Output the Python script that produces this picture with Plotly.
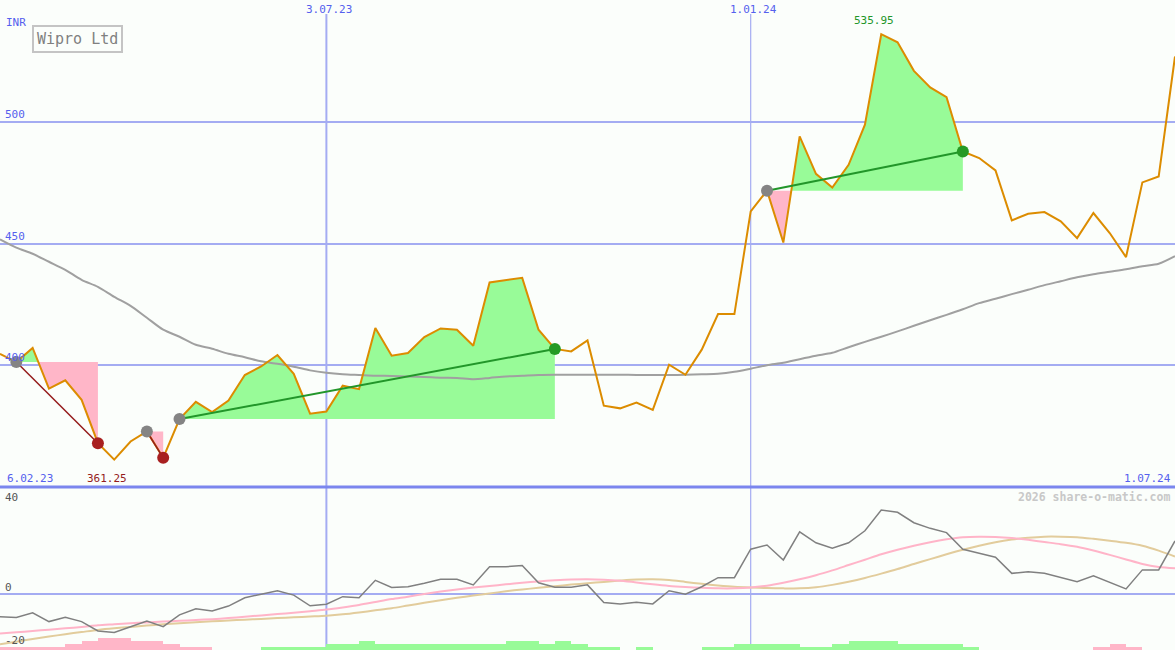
import pandas as pd
import plotly.graph_objects as go

# ---------------- data ----------------
start_date = "2023-02-13"
n_weeks = 73
dates = pd.date_range(start_date, periods=n_weeks, freq="7D")

close = [404.7, 401.3, 407.1, 390.4, 393.8, 385.8, 368.0, 361.25, 368.7, 372.8,
         362.0, 377.9, 385.0, 380.8, 385.5, 396.0, 399.5, 404.2, 396.5, 380.1,
         381.0, 391.6, 390.2, 415.3, 403.9, 405.0, 411.6, 415.1, 414.6, 408.0,
         434.0, 434.8, 435.9, 414.6, 406.7, 405.7, 410.2, 383.4, 382.3, 384.7,
         381.7, 400.2, 396.1, 406.4, 421.0, 421.0, 463.2, 471.7, 450.4, 494.0,
         478.6, 473.0, 482.3, 498.8, 535.95, 532.6, 520.9, 514.1, 510.1, 487.8,
         485.1, 480.0, 459.5, 462.2, 462.9, 459.1, 452.2, 462.5, 454.3, 444.4,
         475.1, 477.5, 526.8]

ma_long = [451.7, 448.3, 445.8, 442.5, 439.2, 435.1, 432.2, 428.1, 424.4, 419.5,
           414.6, 411.7, 408.4, 406.8, 404.7, 403.3, 401.6, 400.6, 399.4, 397.9,
           396.9, 396.3, 396.0, 395.7, 395.6, 395.4, 395.2, 394.9, 394.8, 394.3,
           394.8, 395.4, 395.7, 396.0, 396.1, 396.1, 396.1, 396.1, 396.1, 396.0,
           396.0, 396.0, 396.1, 396.3, 396.5, 397.3, 398.6, 400.0, 401.0, 402.5,
           403.9, 405.1, 407.4, 409.6, 411.7, 413.9, 416.2, 418.5, 420.7, 423.0,
           425.5, 427.3, 429.2, 431.0, 432.9, 434.5, 436.1, 437.4, 438.4, 439.4,
           440.7, 441.7, 444.8]

# trades: index of entry week and exit week
trade_entry = [1, 9, 11, 47]
trade_exit = [6, 10, 34, 59]

# lower panel indicator
osc = [-8.5, -8.8, -7.0, -10.3, -8.7, -10.3, -13.8, -14.4, -12.2, -10.1,
       -12.2, -7.8, -5.5, -6.3, -4.5, -1.4, -0.1, 1.2, -0.4, -4.4,
       -3.8, -1.0, -1.4, 5.1, 2.4, 2.7, 4.0, 5.5, 5.5, 3.4,
       10.2, 10.2, 10.6, 4.2, 2.5, 2.5, 3.4, -3.2, -3.7, -3.1,
       -3.7, 1.2, -0.1, 2.7, 6.1, 6.1, 16.7, 18.3, 12.7, 23.2,
       19.1, 17.1, 19.1, 23.6, 31.3, 30.5, 26.6, 24.5, 22.9, 16.7,
       15.2, 13.7, 7.7, 8.3, 7.7, 6.1, 4.6, 6.8, 4.4, 1.9,
       9.0, 9.0, 19.8]

sig_fast = [-14.7, -14.3, -13.8, -13.3, -12.8, -12.3, -11.7, -11.3, -10.9, -10.6,
            -10.3, -10.0, -9.7, -9.4, -9.0, -8.5, -8.0, -7.5, -7.0, -6.4,
            -5.8, -5.0, -4.1, -3.0, -1.9, -1.0, 0.0, 0.9, 1.7, 2.4,
            3.0, 3.6, 4.2, 4.7, 5.1, 5.4, 5.5, 5.3, 4.9, 4.3,
            3.6, 3.0, 2.6, 2.3, 2.1, 2.1, 2.4, 3.1, 4.2, 5.5,
            7.0, 8.8, 10.8, 12.8, 14.8, 16.5, 18.0, 19.3, 20.4, 21.2,
            21.4, 21.3, 20.9, 20.2, 19.4, 18.6, 17.6, 16.2, 14.6, 12.9,
            11.2, 10.1, 9.6]

sig_slow = [-18.8, -17.8, -16.8, -15.9, -15.0, -14.2, -13.4, -12.8, -12.3, -11.8,
            -11.3, -10.9, -10.5, -10.2, -9.9, -9.6, -9.3, -9.0, -8.7, -8.4,
            -8.1, -7.6, -6.9, -6.1, -5.3, -4.3, -3.3, -2.3, -1.4, -0.6,
            0.2, 1.0, 1.7, 2.3, 2.9, 3.5, 4.0, 4.5, 5.0, 5.4,
            5.5, 5.2, 4.5, 3.8, 3.2, 2.7, 2.4, 2.2, 2.1, 2.1,
            2.5, 3.4, 4.6, 6.0, 7.6, 9.3, 11.2, 13.0, 14.8, 16.5,
            18.0, 19.3, 20.3, 21.0, 21.4, 21.4, 21.2, 20.6, 19.9, 19.1,
            18.0, 16.2, 14.0]

hist = [-1.2, -1.2, -1.2, -1.2, -2.2, -3.4, -4.6, -4.6, -3.4, -3.4,
        -2.2, -1.2, -1.2, 0, 0, 0, 1.2, 1.2, 1.2, 1.2,
        2.2, 2.2, 3.4, 2.2, 2.2, 2.2, 2.2, 2.2, 2.2, 2.2,
        2.2, 3.4, 3.4, 2.2, 3.4, 2.2, 1.2, 1.2, 0, 1.2,
        0, 0, 0, 1.2, 1.2, 2.2, 2.2, 2.2, 2.2, 1.2,
        1.2, 2.2, 3.4, 3.4, 3.4, 2.2, 2.2, 2.2, 2.2, 1.2,
        0, 0, 0, 0, 0, 0, 0, -1.2, -2.2, -1.2,
        0, 0, 0]

main_ticks = [400, 450, 500]
lower_ticks = [0]
vline_dates = ["2023-07-03", "2024-01-01"]
vline_labels = ["3.07.23", "1.01.24"]
first_label = "6.02.23"
last_label = "1.07.24"

# ---------------- style ----------------
BG = "#fbfefb"
GRID = "#a4acf2"
DIVIDER = "#7b86ee"
LBL = "#5560ee"
FONT = "DejaVu Sans Mono"
ORANGE = "#dc8c00"
GREENF = "#98fb98"
PINKF = "#ffb6c8"
MAIN_RANGE = [350, 550]
LOW_RANGE = [-20.9, 39.2]
SPLIT = 1 - 487 / 650

fig = go.Figure()

week = pd.Timedelta(days=7)
t0 = pd.Timestamp(start_date)


def frac_date(f):
    return t0 + week * f


# ---- trade fills ----
for i0, i1 in zip(trade_entry, trade_exit):
    lvl = close[i0]
    xs, ys = [], []
    for k in range(i0, i1):
        xs.append(k)
        ys.append(close[k])
        a, b = close[k] - lvl, close[k + 1] - lvl
        if a * b < 0:
            t = a / (a - b)
            xs.append(k + t)
            ys.append(lvl)
    xs.append(i1)
    ys.append(close[i1])
    xd = [frac_date(f) for f in xs]
    up = [max(v, lvl) for v in ys]
    lo = [min(v, lvl) for v in ys]
    for arr, col in ((up, GREENF), (lo, PINKF)):
        fig.add_trace(go.Scatter(x=xd, y=[lvl] * len(xd), mode="lines",
                                 line=dict(width=0), hoverinfo="skip",
                                 showlegend=False, xaxis="x", yaxis="y"))
        fig.add_trace(go.Scatter(x=xd, y=arr, mode="lines", line=dict(width=0),
                                 fill="tonexty", fillcolor=col, hoverinfo="skip",
                                 showlegend=False, xaxis="x", yaxis="y"))

# ---- long moving average ----
fig.add_trace(go.Scatter(x=dates, y=ma_long, mode="lines",
                         line=dict(color="#a0a0a0", width=2, shape="spline", smoothing=0.8),
                         showlegend=False, xaxis="x", yaxis="y"))

# ---- price ----
fig.add_trace(go.Scatter(x=dates, y=close, mode="lines",
                         line=dict(color=ORANGE, width=2),
                         showlegend=False, xaxis="x", yaxis="y"))

# ---- trade lines & markers ----
for i0, i1 in zip(trade_entry, trade_exit):
    win = close[i1] > close[i0]
    lc = "#22962a" if win else "#951c1c"
    fig.add_trace(go.Scatter(x=[dates[i0], dates[i1]], y=[close[i0], close[i1]],
                             mode="lines", line=dict(color=lc, width=2 if win else 1.5),
                             showlegend=False, xaxis="x", yaxis="y"))
for i0, i1 in zip(trade_entry, trade_exit):
    win = close[i1] > close[i0]
    fig.add_trace(go.Scatter(x=[dates[i0]], y=[close[i0]], mode="markers",
                             marker=dict(color="#848484", size=12),
                             showlegend=False, xaxis="x", yaxis="y"))
    fig.add_trace(go.Scatter(x=[dates[i1]], y=[close[i1]], mode="markers",
                             marker=dict(color="#259a25" if win else "#a82020", size=12),
                             showlegend=False, xaxis="x", yaxis="y"))

# ---- lower panel ----
bar_h = [abs(v) for v in hist]
bar_c = [GREENF if v > 0 else PINKF for v in hist]
fig.add_trace(go.Bar(x=dates, y=bar_h, base=LOW_RANGE[0],
                     marker=dict(color=bar_c, line=dict(width=0)),
                     width=7 * 86400000, offset=0, showlegend=False,
                     xaxis="x2", yaxis="y2"))
fig.add_trace(go.Scatter(x=dates, y=sig_slow, mode="lines",
                         line=dict(color="#e2cc9c", width=2, shape="spline", smoothing=0.8),
                         showlegend=False, xaxis="x2", yaxis="y2"))
fig.add_trace(go.Scatter(x=dates, y=sig_fast, mode="lines",
                         line=dict(color="#ffb4c8", width=2, shape="spline", smoothing=0.8),
                         showlegend=False, xaxis="x2", yaxis="y2"))
fig.add_trace(go.Scatter(x=dates, y=osc, mode="lines",
                         line=dict(color="#808080", width=1.5),
                         showlegend=False, xaxis="x2", yaxis="y2"))

# ---- shapes ----
shapes = []
for d, w in zip(vline_dates, [2, 1.2]):
    shapes.append(dict(type="line", xref="x", yref="paper", x0=d, x1=d,
                       y0=0, y1=1 - 14 / 650, line=dict(color=GRID, width=w), layer="below"))
shapes.append(dict(type="line", xref="paper", yref="paper", x0=0, x1=1,
                   y0=SPLIT, y1=SPLIT, line=dict(color=DIVIDER, width=3)))

# ---- annotations ----
ann = []


def txt(text, x, y, xref, yref, xanchor, yanchor, color, size, xshift=0, yshift=0, **kw):
    ann.append(dict(text=text, x=x, y=y, xref=xref, yref=yref, xanchor=xanchor,
                    yanchor=yanchor, showarrow=False, xshift=xshift, yshift=yshift,
                    font=dict(family=FONT, size=size, color=color), **kw))


for v in main_ticks:
    txt(str(v), 0, v, "paper", "y", "left", "bottom", LBL, 11, xshift=3, yshift=-1)
txt("INR", 0, 550, "paper", "y", "left", "top", LBL, 11, xshift=4, yshift=-14)
for v in lower_ticks:
    txt(str(v), 0, v, "paper", "y2", "left", "bottom", "#555555", 11, xshift=3, yshift=-2)
txt("40", 0, LOW_RANGE[1], "paper", "y2", "left", "top", "#555555", 11, xshift=3, yshift=0)
txt("-20", 0, LOW_RANGE[0], "paper", "y2", "left", "bottom", "#555555", 11, xshift=3, yshift=1)

for d, l in zip(vline_dates, vline_labels):
    txt(l, d, 1, "x", "paper", "center", "top", LBL, 11, xshift=3, yshift=-1)
txt(first_label, 0, MAIN_RANGE[0], "paper", "y", "left", "bottom", LBL, 11, xshift=5, yshift=0)
txt(last_label, 1, MAIN_RANGE[0], "paper", "y", "right", "bottom", LBL, 11, xshift=-2, yshift=0)

imax = close.index(max(close))
imin = close.index(min(close))
txt(f"{close[imax]:.2f}", dates[imax], close[imax], "x", "y", "center", "bottom",
    "#22962a", 11, xshift=-7, yshift=5)
txt(f"{close[imin]:.2f}", dates[imin], MAIN_RANGE[0], "x", "y", "center", "bottom",
    "#951c1c", 11, xshift=-7, yshift=0)

txt("Wipro Ltd", 0, 1, "paper", "paper", "left", "top", "#808080", 15,
    xshift=32, yshift=-25, bordercolor="#c4c4c4", borderwidth=2, borderpad=3,
    bgcolor=BG)
txt("<b>2026 share-o-matic.com</b>", 1, SPLIT, "paper", "paper", "right", "top",
    "#c8c8c8", 11.5, xshift=-3, yshift=-1)

x_range = [dates[0], dates[-1]]
fig.update_layout(
    width=1175, height=650,
    margin=dict(l=0, r=0, t=0, b=0),
    paper_bgcolor=BG, plot_bgcolor=BG,
    showlegend=False, bargap=0,
    xaxis=dict(domain=[0, 1], range=x_range, anchor="y", showgrid=False,
               showticklabels=False, zeroline=False, showline=False),
    xaxis2=dict(domain=[0, 1], range=x_range, anchor="y2", matches="x", showgrid=False,
                showticklabels=False, zeroline=False, showline=False),
    yaxis=dict(domain=[SPLIT, 1], range=MAIN_RANGE, tickvals=main_ticks,
               showgrid=True, gridcolor=GRID, gridwidth=2, showticklabels=False,
               zeroline=False, showline=False, ticks=""),
    yaxis2=dict(domain=[0, SPLIT - 0.003], range=LOW_RANGE, tickvals=lower_ticks,
                showgrid=True, gridcolor=GRID, gridwidth=2, showticklabels=False,
                zeroline=False, showline=False, ticks=""),
    shapes=shapes, annotations=ann,
)

fig.write_html("out.html", config={"displayModeBar": False},
               post_script="document.body.style.margin='0';document.body.style.overflow='hidden';")
